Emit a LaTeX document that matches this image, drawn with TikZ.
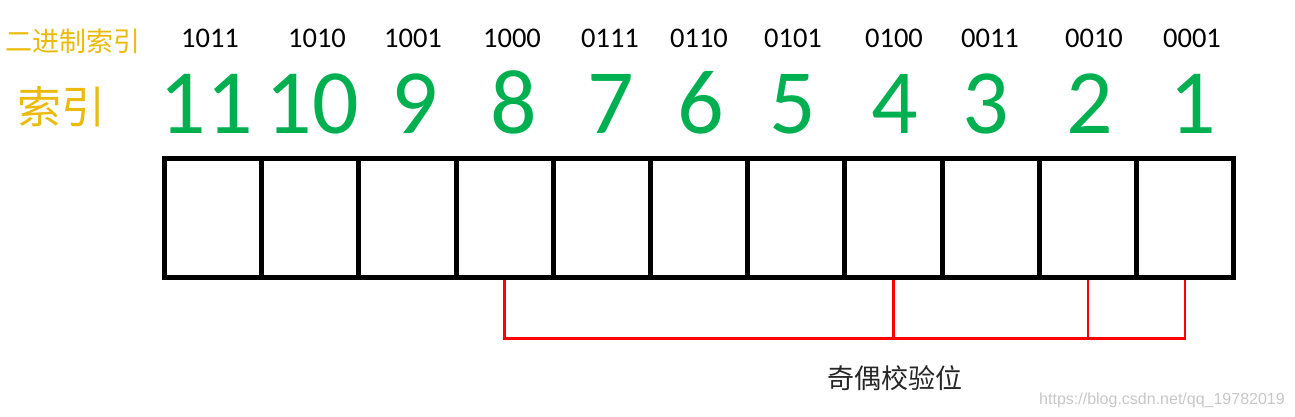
\documentclass[tikz,border=0pt]{standalone}
\usepackage{fontspec}
\usepackage{tikz}
\usetikzlibrary{positioning}
\newfontfamily\cjk{Noto Sans CJK SC}
\newfontfamily\calib{Carlito}
\newfontfamily\wmfont{Liberation Sans}
\definecolor{idxgreen}{RGB}{0,176,80}
\definecolor{idxgold}{RGB}{236,186,10}

\begin{document}
\begin{tikzpicture}[x=1pt, y=-1pt,
    cell/.style={draw, line width=5pt, minimum width=97.2pt, minimum height=119pt, inner sep=0pt},
    binlabel/.style={anchor=base, inner sep=0pt, font=\calib\fontsize{28.5}{30}\selectfont},
    idxlabel/.style={anchor=base, inner sep=0pt, text=idxgreen, font=\calib\fontsize{92}{94}\selectfont},
    parity/.style={red, line width=2.7pt}
]
    \useasboundingbox (0,0) rectangle (1295,417);

    % row titles
    \node[text=idxgold, font=\cjk\fontsize{27}{29}\selectfont, inner sep=0pt] (bintitle) at (73,41) {二进制索引};
    \node[text=idxgold, font=\cjk\fontsize{44}{46}\selectfont, inner sep=0pt] (idxtitle) at (61,107) {索引};

    % cells with binary and decimal index
    \foreach \n/\bin/\bx/\dx [count=\k] in {11/1011/210/206, 10/1010/317/312, 9/1001/413/415,
        8/1000/512/514, 7/0111/610/611, 6/0110/699/701, 5/0101/793/793, 4/0100/894/895,
        3/0011/990/986, 2/0010/1094/1090, 1/0001/1192/1193} {
        \node[cell] (cell\n) at ({164.5+(\k-0.5)*97.2},218) {};
        \node[binlabel] (bin\n) at (\bx,48) {\bin};
        \node[idxlabel] (idx\n) at (\dx,133) {\n};
    }

    % parity bits
    \draw[parity] (cell8.south) -- ++(0,58.3) coordinate (p8) -| (cell1.south);
    \draw[parity] (cell4.south) -- (cell4.south |- p8);
    \draw[parity] (cell2.south) -- (cell2.south |- p8);

    \node[text=black!85, font=\cjk\fontsize{27}{29}\selectfont, inner sep=0pt] (paritylabel) at (895,378) {奇偶校验位};

    % watermark
    \node[anchor=base, text=black!22, font=\wmfont\fontsize{16}{18}\selectfont, inner sep=0pt] (wmark) at (1162,404) {https://blog.csdn.net/qq\_19782019};
\end{tikzpicture}
\end{document}
